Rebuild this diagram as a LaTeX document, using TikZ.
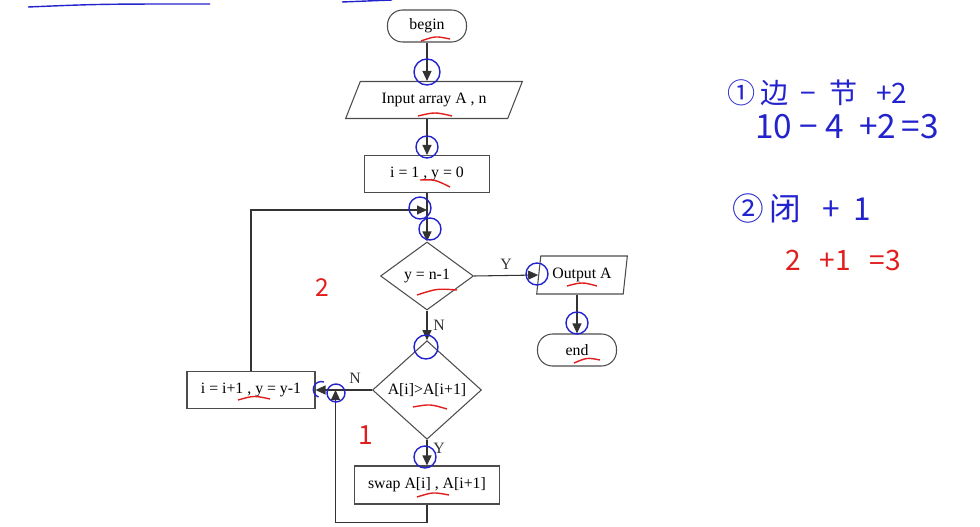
\documentclass[tikz,border=0pt]{standalone}
\usepackage{fontspec}
\setmainfont{Liberation Serif}
\newfontfamily\handfont{Noto Sans CJK SC}
\usetikzlibrary{arrows.meta, positioning, shapes.geometric, calc}

\definecolor{penblue}{RGB}{35,35,205}
\definecolor{penred}{RGB}{225,30,30}

\begin{document}
\begin{tikzpicture}[x=0.02cm, y=-0.02cm, font=\fontsize{9}{11}\selectfont]
    % Define styles
    \tikzstyle{terminal} = [rectangle, draw=black!70, line width=0.6pt, rounded corners=0.3cm, minimum width=1.58cm, minimum height=0.64cm, inner sep=2pt]
    \tikzstyle{io} = [trapezium, draw=black!70, line width=0.6pt, trapezium stretches=true, inner sep=2pt]
    \tikzstyle{process} = [rectangle, draw=black!70, line width=0.6pt, minimum height=0.74cm, inner sep=2pt]
    \tikzstyle{decision} = [diamond, draw=black!70, line width=0.6pt, inner sep=1pt]
    \tikzstyle{line} = [draw, black!80, line width=0.6pt]
    \tikzstyle{arrow} = [line, -{Triangle[length=2mm, width=1.8mm]}]
    \tikzstyle{hand} = [inner sep=0pt, font=\handfont]
    \tikzstyle{bluepen} = [penblue, line width=0.8pt]
    \tikzstyle{redpen} = [penred, line width=0.8pt]

    \useasboundingbox (0,0) rectangle (980,527);

    % Main column
    \node[terminal] (begin) at (427,26) {begin};
    \node[io, trapezium left angle=62, trapezium right angle=118, minimum width=3.56cm, minimum height=0.74cm] (input) at (434,100) {Input array A , n};
    \node[process, minimum width=2.5cm] (init) at (427,174) {i = 1 , y = 0};
    \coordinate (join) at (427,210);
    \node[decision, minimum width=1.86cm, minimum height=1.36cm] (check) at (427,276) {y = n-1};
    \node[decision, minimum width=2.18cm, minimum height=1.32cm] (compare) at (427,390) {A[i]>A[i+1]};
    \node[process, minimum width=2.9cm, minimum height=0.76cm] (swap) at (427,485) {swap A[i] , A[i+1]};

    % Output branch
    \node[io, trapezium left angle=81, trapezium right angle=99, minimum width=1.82cm, minimum height=0.76cm] (output) at (582,275) {Output A};
    \node[terminal] (end) at (577,350) {end};

    % Loop body
    \node[process, minimum width=2.56cm] (step) at (251,390) {i = i+1 , y = y-1};
    \coordinate (merge) at ($(step.east)+(20,0)$);

    % Connections
    \draw[arrow] (begin.south) -- (begin.south |- input.north);
    \draw[arrow] (begin.south |- input.south) -- (init.north);
    \draw[line] (init.south) -- (join);
    \draw[arrow] (join) -- (check.north);
    \draw[arrow] (check.east) -- node[above] {Y} (output.west);
    \draw[arrow] (end.north |- output.south) -- (end.north);
    \draw[arrow] (check.south) -- node[right] {N} (compare.north);
    \draw[arrow] (compare.west) -- node[above, pos=0.3] {N} (step.east);
    \draw[arrow] (compare.south) -- node[right, pos=0.35] {Y} (swap.north);
    \draw[arrow] (swap.south) -- ++(0,18) -| (merge);
    \draw[arrow] (step.north) |- (join);

    % Hand notes on the right
    \node[hand, anchor=west, text=penblue, font=\handfont\fontsize{16}{18}\selectfont] (rule1) at (727,93) {①\,边\ \ −\ \ 节\ \ \ +2};
    \node[hand, anchor=west, text=penblue, font=\handfont\fontsize{19}{21}\selectfont] (calc1) at (755,127) {10\ −\ 4\ \ +2\,=3};
    \node[hand, anchor=west, text=penblue, font=\handfont\fontsize{18}{20}\selectfont] (rule2) at (732,208) {②\,闭\ \ \ +\ \ 1};
    \node[hand, anchor=west, text=penred, font=\handfont\fontsize{16}{18}\selectfont] (calc2) at (785,260) {2\ \ \ +1\ \ \ =3};
    \node[hand, text=penred, font=\handfont\fontsize{14}{16}\selectfont] (region2) at (322,288) {2};
    \node[hand, text=penred, font=\handfont\fontsize{15}{17}\selectfont] (region1) at (366,435) {1};

    % Pen marks
    \draw[bluepen] (28,7) .. controls (100,4) .. (210,4);
    \draw[bluepen] (342,2) -- (392,0);
    \foreach \cx/\cy/\r in {427/72/13, 427/147/11, 420/208/11, 430/229/11, 537/274/11, 577/323/11, 426/347/12, 336/393/9, 425/457/11}
        \draw[bluepen] (\cx,\cy) circle[radius=\r*0.02cm];
    \draw[bluepen] (324,382) arc[start angle=70, end angle=250, radius=0.16cm];
    \foreach \ax/\ay/\bx/\by in {421/41/450/39, 418/116/452/116, 420/180/450/187, 417/295/457/290, 567/286/597/286, 574/363/600/360, 413/407/447/409, 417/497/449/495, 238/400/270/399}
        \draw[redpen] (\ax,\ay) .. controls ($(\ax,\ay)!0.5!(\bx,\by)+(0,-4)$) .. (\bx,\by);
\end{tikzpicture}
\end{document}
